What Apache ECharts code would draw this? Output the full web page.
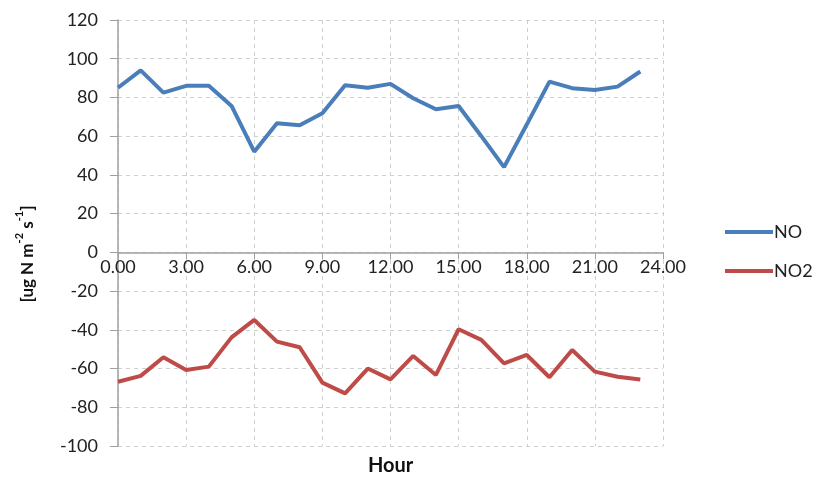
<!DOCTYPE html>
<html><head><meta charset="utf-8">
<script src="https://cdn.jsdelivr.net/npm/echarts@6/dist/echarts.min.js"></script>
<style>html,body{margin:0;padding:0;background:#fff}#c{width:821px;height:477px}</style>
</head><body><div id="c"></div>
<script>
const hours = [0,1,2,3,4,5,6,7,8,9,10,11,12,13,14,15,16,17,18,19,20,21,22,23];
const noValues = [85,94,82.5,86,86,75.6,52,66.7,65.6,71.8,86.3,85,87,79.6,73.9,75.6,60,44,66,88.2,84.8,83.9,85.6,93.4];
const no2Values = [-66.8,-63.8,-54.2,-60.7,-59,-43.9,-34.9,-46.1,-49,-67.3,-72.8,-60,-65.6,-53.5,-63.3,-39.7,-45.2,-57.3,-53,-64.5,-50.4,-61.6,-64.2,-65.6];
const seriesNames = ['NO','NO2'];
const xTicks = {min:0,max:24,interval:3};
const yTicks = {min:-100,max:120,interval:20};

const gridTop = 20, gridBottom = 31, H = 477;
const plotH = H - gridTop - gridBottom;
const zeroFromBottom = plotH * (0 - yTicks.min) / (yTicks.max - yTicks.min);

const font = 'Lato, "Open Sans", sans-serif';
const chart = echarts.init(document.getElementById('c'));
chart.setOption({
  animation:false,
  textStyle:{fontFamily:font},
  grid:{left:118,right:158,top:gridTop,bottom:gridBottom},
  legend:{
    orient:'vertical', left:720, top:218, itemWidth:48, itemHeight:4, itemGap:21,
    icon:'rect',
    textStyle:{fontFamily:font,fontSize:18,color:'#222',padding:[0,0,0,-4]},
    data:seriesNames
  },
  xAxis:{
    type:'value', min:xTicks.min, max:xTicks.max, interval:xTicks.interval,
    position:'bottom', offset:-zeroFromBottom,
    axisLine:{onZero:false,lineStyle:{color:'#a0a0a0',width:1.5}},
    axisTick:{show:true,length:7,lineStyle:{color:'#a0a0a0'}},
    axisLabel:{formatter:v=>v.toFixed(2),fontSize:18,color:'#222',margin:6,fontFamily:font},
    splitLine:{show:true,lineStyle:{color:'#cfcfcf',type:[4,4]}}
  },
  yAxis:{
    type:'value', min:yTicks.min, max:yTicks.max, interval:yTicks.interval,
    axisLine:{show:true,onZero:false,lineStyle:{color:'#a0a0a0',width:1.5}},
    axisTick:{show:true,length:8,lineStyle:{color:'#a0a0a0'}},
    axisLabel:{fontSize:18,color:'#222',margin:20,fontFamily:font},
    splitLine:{show:true,lineStyle:{color:'#cfcfcf',type:[4,4]}}
  },
  graphic:[
    {type:'text',left:368,top:456,style:{text:'Hour',fontFamily:font,fontSize:20,fontWeight:'bold',fill:'#111'}},
    {type:'text',x:25,y:254,rotation:Math.PI/2,
     style:{text:'{b|[ug N m}{s|-2}{b| s}{s|-1}{b|]}',align:'center',verticalAlign:'middle',
       rich:{
         b:{fontSize:17,fontWeight:'bold',fill:'#111',fontFamily:font,verticalAlign:'bottom',lineHeight:22},
         s:{fontSize:11,fontWeight:'bold',fill:'#111',fontFamily:font,verticalAlign:'top',lineHeight:22}
       }}}
  ],
  series:[
    {name:seriesNames[0],type:'line',data:hours.map((h,i)=>[h,noValues[i]]),symbol:'none',
     lineStyle:{width:4,color:'#4A7EBB'},itemStyle:{color:'#4A7EBB'}},
    {name:seriesNames[1],type:'line',data:hours.map((h,i)=>[h,no2Values[i]]),symbol:'none',
     lineStyle:{width:4,color:'#BE4B48'},itemStyle:{color:'#BE4B48'}}
  ]
});
</script></body></html>
